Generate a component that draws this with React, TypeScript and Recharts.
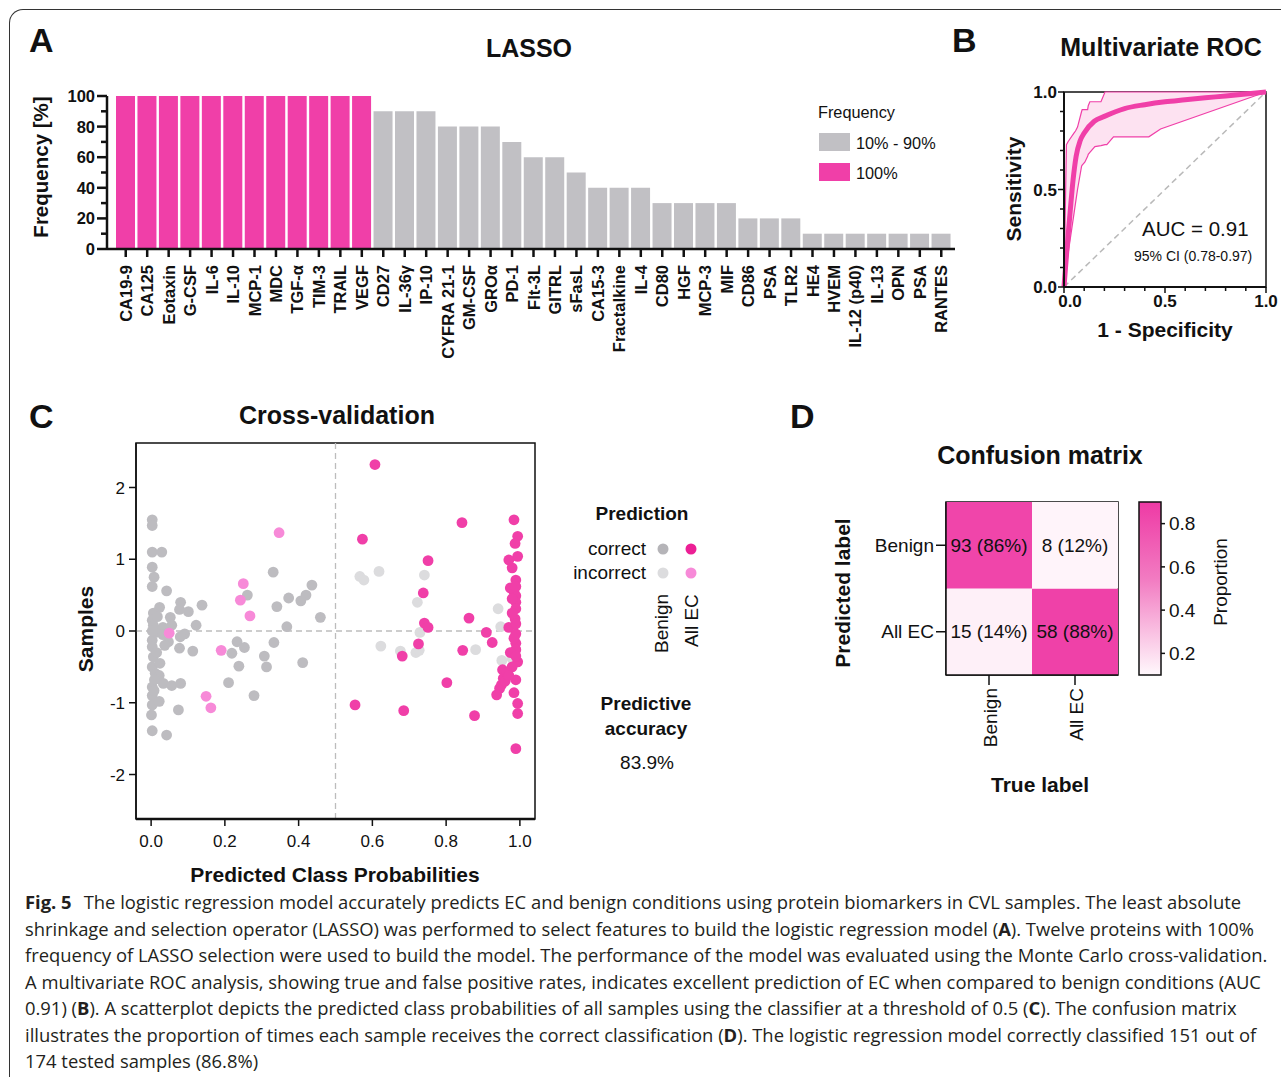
import React from 'react';
import {
  BarChart, Bar, Cell, XAxis, YAxis, ComposedChart, Line, Area,
  ReferenceLine, ReferenceArea, ScatterChart, Scatter, LabelList,
} from 'recharts';

const FONT = '"Liberation Sans", Arial, Helvetica, sans-serif';
const INK = '#111';
const PINK = '#f03fa8';
const GRAY = '#c1c0c4';

// A: LASSO selection frequency
const proteins = [
  'CA19-9', 'CA125', 'Eotaxin', 'G-CSF', 'IL-6', 'IL-10', 'MCP-1', 'MDC', 'TGF-α', 'TIM-3', 'TRAIL', 'VEGF',
  'CD27', 'IL-36γ', 'IP-10', 'CYFRA 21-1', 'GM-CSF', 'GROα', 'PD-1', 'Flt-3L', 'GITRL', 'sFasL',
  'CA15-3', 'Fractalkine', 'IL-4', 'CD80', 'HGF', 'MCP-3', 'MIF', 'CD86', 'PSA', 'TLR2',
  'HE4', 'HVEM', 'IL-12 (p40)', 'IL-13', 'OPN', 'PSA', 'RANTES',
];
const frequency = [
  100, 100, 100, 100, 100, 100, 100, 100, 100, 100, 100, 100,
  90, 90, 90, 80, 80, 80, 70, 60, 60, 50,
  40, 40, 40, 30, 30, 30, 30, 20, 20, 20,
  10, 10, 10, 10, 10, 10, 10,
];
const freqTicks = [0, 10, 20, 30, 40, 50, 60, 70, 80, 90, 100];

// B: ROC curve with 95% CI band
const rocFpr = [0, 0.015, 0.03, 0.045, 0.06, 0.08, 0.1, 0.15, 0.2, 0.3, 0.4, 0.5, 0.6, 0.7, 0.8, 0.9, 1];
const rocTpr = [0, 0.2, 0.38, 0.55, 0.67, 0.75, 0.79, 0.85, 0.875, 0.915, 0.935, 0.95, 0.96, 0.97, 0.98, 0.99, 1];
const ciFpr = [0, 0.012, 0.02, 0.05, 0.057, 0.067, 0.087, 0.09, 0.103, 0.117, 0.12, 0.128, 0.153, 0.183, 0.203, 0.212, 0.245, 0.42, 0.478, 1];
const ciLow = [0, 0.1, 0.17, 0.38, 0.43, 0.5, 0.62, 0.625, 0.64, 0.67, 0.68, 0.69, 0.72, 0.725, 0.73, 0.73, 0.77, 0.77, 0.81, 1];
const ciHigh = [0, 0.73, 0.745, 0.79, 0.8, 0.82, 0.9, 0.91, 0.91, 0.91, 0.93, 0.95, 0.95, 0.95, 1, 1, 1, 1, 1, 1];
const rocTicks = [0, 0.1, 0.2, 0.3, 0.4, 0.5, 0.6, 0.7, 0.8, 0.9, 1];

// C: cross-validation scatter, [probability, sample jitter]
const benignCorrect: [number, number][] = [
  [0.003, 1.55], [0.003, 1.47], [0.003, 1.1], [0.029, 1.1], [0.003, 0.89], [0.008, 0.75], [0.003, 0.62], [0.042, 0.56],
  [0.023, 0.33], [0.08, 0.4], [0.077, 0.3], [0.101, 0.27], [0.138, 0.36], [0.006, 0.25], [0.003, 0.15], [0.006, 0.08],
  [0.052, 0.19], [0.056, 0.08], [0.122, 0.08], [0.091, -0.04], [0.079, -0.08], [0.003, -0.13], [0.003, -0.22], [0.006, -0.36],
  [0.003, -0.5], [0.024, -0.45], [0.047, -0.15], [0.077, -0.24], [0.113, -0.28], [0.011, -0.59], [0.033, -0.73],
  [0.056, -0.76], [0.08, -0.73], [0.003, -0.78], [0.003, -0.9], [0.003, -1.03], [0.001, -1.17], [0.074, -1.1], [0.003, -1.39],
  [0.042, -1.45], [0.013, -0.02], [0.003, 0], [0.015, -0.3], [0.022, -0.62], [0.009, -0.68], [0.017, 0.2], [0.032, 0.05],
  [0.032, -0.05], [0.037, -0.2], [0.022, -0.98], [0.008, -0.83],
  [0.331, 0.82], [0.261, 0.5], [0.436, 0.64], [0.42, 0.5], [0.406, 0.42], [0.373, 0.46], [0.341, 0.34],
  [0.459, 0.19], [0.368, 0.06], [0.333, -0.16], [0.233, -0.15], [0.253, -0.23], [0.219, -0.31], [0.238, -0.49],
  [0.307, -0.35], [0.313, -0.5], [0.411, -0.44], [0.21, -0.72], [0.279, -0.9],
];
const benignIncorrect: [number, number][] = [
  [0.566, 0.76], [0.577, 0.71], [0.618, 0.83], [0.741, 0.78], [0.722, 0.4], [0.941, 0.31], [0.948, 0.06],
  [0.729, -0.02], [0.623, -0.21], [0.676, -0.28], [0.718, -0.3], [0.727, -0.27], [0.88, -0.26], [0.951, -0.41], [0.978, -0.38],
];
const ecIncorrect: [number, number][] = [
  [0.347, 1.37], [0.25, 0.66], [0.242, 0.43], [0.268, 0.21], [0.049, -0.03], [0.19, -0.27], [0.149, -0.91], [0.162, -1.07],
];
const ecCorrect: [number, number][] = [
  [0.607, 2.32], [0.573, 1.28], [0.843, 1.51], [0.751, 0.98], [0.738, 0.53], [0.741, 0.11], [0.751, 0.05],
  [0.725, -0.18], [0.681, -0.35], [0.862, 0.18], [0.909, -0.02], [0.925, -0.16], [0.845, -0.27], [0.802, -0.72],
  [0.553, -1.03], [0.685, -1.11], [0.877, -1.18], [0.989, -1.64],
  [0.984, 1.55], [0.994, 1.32], [0.987, 1.22], [0.994, 1.04], [0.97, 0.99], [0.979, 0.88], [0.989, 0.71], [0.984, 0.55],
  [0.989, 0.49], [0.989, 0.4], [0.989, 0.31], [0.987, 0.17], [0.97, 0.05], [0.989, -0.04], [0.989, -0.17], [0.989, -0.26],
  [0.994, -0.43], [0.979, -0.5], [0.953, -0.54], [0.955, -0.66], [0.989, -0.68], [0.95, -0.75], [0.945, -0.8],
  [0.984, -0.86], [0.937, -0.89], [0.994, -1.01], [0.994, -1.15],
  [0.974, 0.6], [0.989, 0.62], [0.979, 0.25], [0.989, 0.1], [0.984, -0.1], [0.974, -0.3], [0.965, -0.58], [0.96, -0.7],
  [0.989, -0.35], [0.979, 0.45], [0.97, -0.62],
];
const probTicks = [0, 0.2, 0.4, 0.6, 0.8, 1];
const sampleTicks = [-2, -1, 0, 1, 2];

// D: confusion matrix (columns = true label)
const trueLabels = ['Benign', 'All EC'];
const predBenignCount = [93, 8];
const predBenignProp = [0.86, 0.12];
const predEcCount = [15, 58];
const predEcProp = [0.14, 0.88];
const predLabels = ['All EC', 'Benign'];
const colorbarRange = [0.1, 0.9];
const colorbarTicks = [0.2, 0.4, 0.6, 0.8];

const lassoData = proteins.map((name, i) => ({ id: i, name, freq: frequency[i] }));
const rocData = rocFpr.map((x, i) => ({ x, y: rocTpr[i] }));
const ciData = ciFpr.map((x, i) => ({ x, lo: ciLow[i], hi: ciHigh[i] }));
const toPts = (a: [number, number][]) => a.map(([x, y]) => ({ x, y }));
const cmData = trueLabels.map((t, i) => ({
  t,
  ec: 1,
  benign: 1,
  ecProp: predEcProp[i],
  benignProp: predBenignProp[i],
  ecLabel: `${predEcCount[i]} (${Math.round(predEcProp[i] * 100)}%)`,
  benignLabel: `${predBenignCount[i]} (${Math.round(predBenignProp[i] * 100)}%)`,
}));
const cbData = [{ k: 'p', range: colorbarRange }];

const heat = (p: number) => {
  const t = Math.max(0, Math.min(1, (p - 0.1) / 0.8));
  const lo = [255, 249, 252];
  const hi = [239, 60, 166];
  const c = lo.map((v, i) => Math.round(v + (hi[i] - v) * t));
  return `rgb(${c[0]},${c[1]},${c[2]})`;
};

const ProteinTick = ({ x, y, payload }: any) => (
  <g>
    <line x1={x} y1={y} x2={x} y2={y + 8} stroke={INK} strokeWidth={2.5} />
    <text transform={`translate(${x + 6},${y + 16}) rotate(-90)`} textAnchor="end"
      fontSize={16.5} fontWeight="bold" fontFamily={FONT} fill={INK}>
      {proteins[payload.value]}
    </text>
  </g>
);

const FreqTick = ({ x, y, payload }: any) => {
  const major = payload.value % 20 === 0;
  return (
    <g>
      <line x1={x - (major ? 10 : 6)} y1={y} x2={x} y2={y} stroke={INK} strokeWidth={2.5} />
      {major && (
        <text x={x - 12} y={y} dy="0.36em" textAnchor="end" fontSize={16.5} fontWeight="bold" fontFamily={FONT} fill={INK}>
          {payload.value}
        </text>
      )}
    </g>
  );
};

const isHalf = (v: number) => Math.abs(v * 2 - Math.round(v * 2)) < 1e-6;

const RocXTick = ({ x, y, payload }: any) => {
  const v = payload.value;
  const major = isHalf(v);
  return (
    <g>
      <line x1={x} y1={y} x2={x} y2={y + (major ? 6 : 4)} stroke={INK} strokeWidth={1.5} />
      {major && (
        <text x={x + (v === 0 ? 6 : 0)} y={y + 20} textAnchor="middle" fontSize={17} fontWeight="bold" fontFamily={FONT} fill={INK}>
          {v.toFixed(1)}
        </text>
      )}
    </g>
  );
};

const RocYTick = ({ x, y, payload }: any) => {
  const v = payload.value;
  const major = isHalf(v);
  return (
    <g>
      <line x1={x - (major ? 6 : 4)} y1={y} x2={x} y2={y} stroke={INK} strokeWidth={1.5} />
      {major && (
        <text x={x - 7} y={y} dy="0.36em" textAnchor="end" fontSize={17} fontWeight="bold" fontFamily={FONT} fill={INK}>
          {v.toFixed(1)}
        </text>
      )}
    </g>
  );
};

const CmXTick = ({ x, y, payload }: any) => (
  <g>
    <line x1={x} y1={y} x2={x} y2={y + 10} stroke={INK} strokeWidth={1.5} />
    <text transform={`translate(${x + 8},${y + 13}) rotate(-90)`} textAnchor="end" fontSize={19} fontFamily={FONT} fill={INK}>
      {payload.value}
    </text>
  </g>
);

const Dot = (p: any) => <circle cx={p.cx} cy={p.cy} r={5.4} fill={p.fill} />;

const abs = (left: number, top: number): React.CSSProperties => ({ position: 'absolute', left, top });

const T = (p: any) => <text fontFamily={FONT} fill={INK} {...p} />;

export default function App() {
  return (
    <div style={{ position: 'absolute', left: 0, top: 0, width: 1281, height: 1077, overflow: 'hidden', background: '#fff' }}>
      <div style={{
        position: 'absolute', left: 9, top: 9, width: 1400, height: 1200,
        borderTop: '1.3px solid #333', borderLeft: '1.3px solid #333', borderTopLeftRadius: 14,
      }} />

      {/* A */}
      <div style={abs(0, 0)}>
        <BarChart width={965} height={380} data={lassoData} barSize={19}
          margin={{ top: 96, right: 10, bottom: 11, left: 0 }}>
          <XAxis dataKey="id" height={120} interval={0} padding={{ left: 8, right: 3 }}
            axisLine={{ stroke: INK, strokeWidth: 2.5 }} tickLine={false} tickSize={0} tickMargin={0}
            tick={<ProteinTick />} />
          <YAxis type="number" domain={[0, 100]} ticks={freqTicks} interval={0} width={107}
            axisLine={{ stroke: INK, strokeWidth: 2.5 }} tickLine={false} tickSize={0} tickMargin={0}
            tick={<FreqTick />} />
          <Bar dataKey="freq" isAnimationActive={false}>
            {lassoData.map((d) => <Cell key={d.id} fill={d.freq === 100 ? PINK : GRAY} />)}
          </Bar>
        </BarChart>
      </div>

      {/* B */}
      <div style={abs(990, 60)}>
        <ComposedChart width={291} height={300} margin={{ top: 32, right: 15, bottom: 43, left: 24 }}>
          <XAxis type="number" dataKey="x" domain={[0, 1]} ticks={rocTicks} interval={0} height={30}
            axisLine={{ stroke: INK, strokeWidth: 2 }} tickLine={false} tickSize={0} tickMargin={0}
            tick={<RocXTick />} />
          <YAxis type="number" domain={[0, 1]} ticks={rocTicks} interval={0} width={50}
            axisLine={{ stroke: INK, strokeWidth: 2 }} tickLine={false} tickSize={0} tickMargin={0}
            tick={<RocYTick />} />
          <ReferenceArea x1={0} x2={1} y1={0} y2={1} fill="none" stroke={INK} strokeWidth={1.5} />
          <ReferenceLine segment={[{ x: 0, y: 0 }, { x: 1, y: 1 }]} stroke="#b9b9b9" strokeDasharray="6 4" strokeWidth={1.5} />
          <Area data={ciData} dataKey={(d: any) => [d.lo, d.hi]} type="linear" fill="#fde2f1" fillOpacity={1}
            stroke="none" isAnimationActive={false} />
          <Line data={ciData} dataKey="hi" type="linear" stroke={PINK} strokeWidth={1.2} dot={false} isAnimationActive={false} />
          <Line data={ciData} dataKey="lo" type="linear" stroke={PINK} strokeWidth={1.2} dot={false} isAnimationActive={false} />
          <Line data={rocData} dataKey="y" type="monotone" stroke={PINK} strokeWidth={5} dot={false} isAnimationActive={false} />
        </ComposedChart>
      </div>

      {/* C */}
      <div style={abs(0, 0)}>
        <ScatterChart width={560} height={880} margin={{ top: 443, right: 25, bottom: 21, left: 96 }}>
          <XAxis type="number" dataKey="x" domain={[-0.041, 1.041]} ticks={probTicks} interval={0} height={40}
            axisLine={{ stroke: INK, strokeWidth: 2.5 }} tickLine={{ stroke: INK, strokeWidth: 1.5 }}
            tickSize={7} tickMargin={9} tickFormatter={(v: number) => v.toFixed(1)}
            tick={{ fontSize: 17, fill: INK, fontFamily: FONT }} />
          <YAxis type="number" dataKey="y" domain={[-2.62, 2.62]} ticks={sampleTicks} interval={0} width={40}
            axisLine={{ stroke: INK, strokeWidth: 1.5 }} tickLine={{ stroke: INK, strokeWidth: 1.5 }}
            tickSize={7} tickMargin={4} tick={{ fontSize: 17, fill: INK, fontFamily: FONT }} />
          <ReferenceArea x1={-0.041} x2={1.041} y1={-2.62} y2={2.62} fill="none" stroke={INK} strokeWidth={1.5} />
          <ReferenceLine x={0.5} stroke="#bdbdbd" strokeDasharray="6 4" strokeWidth={1.3} />
          <ReferenceLine y={0} stroke="#bdbdbd" strokeDasharray="6 4" strokeWidth={1.3} />
          <Scatter data={toPts(benignCorrect)} fill="#bdbcc0" shape={Dot} isAnimationActive={false} />
          <Scatter data={toPts(benignIncorrect)} fill="#dcdcde" shape={Dot} isAnimationActive={false} />
          <Scatter data={toPts(ecIncorrect)} fill="#f78ad8" shape={Dot} isAnimationActive={false} />
          <Scatter data={toPts(ecCorrect)} fill={PINK} shape={Dot} isAnimationActive={false} />
        </ScatterChart>
      </div>

      {/* D heatmap */}
      <div style={abs(820, 430)}>
        <BarChart width={460} height={340} data={cmData} barCategoryGap={0}
          margin={{ top: 72, right: 162, bottom: 35, left: 26 }}>
          <XAxis dataKey="t" height={60} interval={0} axisLine={{ stroke: INK, strokeWidth: 1.5 }}
            tickLine={false} tickSize={0} tickMargin={0} tick={<CmXTick />} />
          <YAxis type="number" domain={[0, 2]} ticks={[0.5, 1.5]} interval={0} width={100}
            tickFormatter={(v: number) => predLabels[Math.floor(v)]}
            axisLine={{ stroke: INK, strokeWidth: 1.5 }} tickLine={{ stroke: INK, strokeWidth: 1.5 }}
            tickSize={10} tickMargin={2} tick={{ fontSize: 19, fill: INK, fontFamily: FONT }} />
          <Bar dataKey="ec" stackId="m" isAnimationActive={false}>
            {cmData.map((d) => <Cell key={d.t} fill={heat(d.ecProp)} />)}
            <LabelList dataKey="ecLabel" position="center" fontSize={19} fill={INK} fontFamily={FONT} />
          </Bar>
          <Bar dataKey="benign" stackId="m" isAnimationActive={false}>
            {cmData.map((d) => <Cell key={d.t} fill={heat(d.benignProp)} />)}
            <LabelList dataKey="benignLabel" position="center" fontSize={19} fill={INK} fontFamily={FONT} />
          </Bar>
          <ReferenceArea y1={0} y2={2} fill="none" stroke={INK} strokeWidth={1.5} />
        </BarChart>
      </div>

      {/* D colour bar */}
      <div style={abs(1130, 430)}>
        <BarChart width={120} height={340} data={cbData} barCategoryGap={0}
          margin={{ top: 72, right: 29, bottom: 95, left: 9 }}>
          <defs>
            <linearGradient id="cbGrad" x1="0" y1="0" x2="0" y2="1">
              <stop offset="0%" stopColor="#ee3aa5" />
              <stop offset="45%" stopColor="#f27cc2" />
              <stop offset="100%" stopColor="#fff8fc" />
            </linearGradient>
          </defs>
          <XAxis dataKey="k" hide />
          <YAxis orientation="right" type="number" domain={[0.1, 0.9]} ticks={colorbarTicks} interval={0} width={60}
            axisLine={false} tickLine={{ stroke: INK, strokeWidth: 1.5 }} tickSize={4} tickMargin={4}
            tickFormatter={(v: number) => v.toFixed(1)} tick={{ fontSize: 19, fill: INK, fontFamily: FONT }} />
          <Bar dataKey="range" fill="url(#cbGrad)" stroke={INK} strokeWidth={1.5} isAnimationActive={false} />
        </BarChart>
      </div>

      {/* free text */}
      <svg width={1281} height={1077} style={{ position: 'absolute', left: 0, top: 0, pointerEvents: 'none' }}>
        <T x={29} y={52} fontSize={34} fontWeight="bold">A</T>
        <T x={952} y={52} fontSize={34} fontWeight="bold">B</T>
        <T x={29} y={428} fontSize={34} fontWeight="bold">C</T>
        <T x={790} y={428} fontSize={34} fontWeight="bold">D</T>

        <T x={529} y={57} fontSize={25} fontWeight="bold" textAnchor="middle">LASSO</T>
        <T x={1161} y={56} fontSize={25} fontWeight="bold" textAnchor="middle">Multivariate ROC</T>
        <T x={337} y={424} fontSize={25} fontWeight="bold" textAnchor="middle">Cross-validation</T>
        <T x={1040} y={464} fontSize={25} fontWeight="bold" textAnchor="middle">Confusion matrix</T>

        <T transform="translate(48,167) rotate(-90)" fontSize={20.5} fontWeight="bold" textAnchor="middle">Frequency [%]</T>
        <T x={818} y={118} fontSize={16.3}>Frequency</T>
        <rect x={819} y={133} width={31} height={18} fill={GRAY} />
        <rect x={819} y={163} width={31} height={18} fill={PINK} />
        <T x={856} y={149} fontSize={16.3}>10% - 90%</T>
        <T x={856} y={179} fontSize={16.3}>100%</T>

        <T transform="translate(1021,189) rotate(-90)" fontSize={21} fontWeight="bold" textAnchor="middle">Sensitivity</T>
        <T x={1165} y={337} fontSize={21} fontWeight="bold" textAnchor="middle">1 - Specificity</T>
        <T x={1142} y={236} fontSize={20.5}>AUC = 0.91</T>
        <T x={1134} y={261} fontSize={14}>95% CI (0.78-0.97)</T>

        <T transform="translate(93,629) rotate(-90)" fontSize={21} fontWeight="bold" textAnchor="middle">Samples</T>
        <T x={335} y={882} fontSize={21} fontWeight="bold" textAnchor="middle">Predicted Class Probabilities</T>
        <T x={642} y={520} fontSize={19} fontWeight="bold" textAnchor="middle">Prediction</T>
        <T x={646} y={555} fontSize={19} textAnchor="end">correct</T>
        <T x={646} y={579} fontSize={19} textAnchor="end">incorrect</T>
        <circle cx={663} cy={549} r={5.5} fill="#b5b4b8" />
        <circle cx={691} cy={549} r={5.5} fill="#ec1f95" />
        <circle cx={663} cy={573} r={5.5} fill="#dcdcde" />
        <circle cx={691} cy={573} r={5.5} fill="#f78ad8" />
        <T transform="translate(668,653) rotate(-90)" fontSize={19}>Benign</T>
        <T transform="translate(698,647) rotate(-90)" fontSize={19}>All EC</T>
        <T x={646} y={710} fontSize={19} fontWeight="bold" textAnchor="middle">Predictive</T>
        <T x={646} y={735} fontSize={19} fontWeight="bold" textAnchor="middle">accuracy</T>
        <T x={647} y={769} fontSize={19} textAnchor="middle">83.9%</T>

        <T transform="translate(850,593) rotate(-90)" fontSize={21} fontWeight="bold" textAnchor="middle">Predicted label</T>
        <T x={1040} y={792} fontSize={21} fontWeight="bold" textAnchor="middle">True label</T>
        <T transform="translate(1227,582) rotate(-90)" fontSize={19} textAnchor="middle">Proportion</T>

        <g fontFamily='"Open Sans", "Noto Sans", sans-serif' fontSize={18.4} fill="#231f20">
          <text x={25} y={909}>
            <tspan fontWeight="bold">Fig. 5</tspan>
            <tspan dx={12}>The logistic regression model accurately predicts EC and benign conditions using protein biomarkers in CVL samples. The least absolute</tspan>
          </text>
          <text x={25} y={935.5}>
            shrinkage and selection operator (LASSO) was performed to select features to build the logistic regression model (<tspan fontWeight="bold">A</tspan>). Twelve proteins with 100%
          </text>
          <text x={25} y={962}>
            frequency of LASSO selection were used to build the model. The performance of the model was evaluated using the Monte Carlo cross-validation.
          </text>
          <text x={25} y={988.5}>
            A multivariate ROC analysis, showing true and false positive rates, indicates excellent prediction of EC when compared to benign conditions (AUC
          </text>
          <text x={25} y={1015}>
            0.91) (<tspan fontWeight="bold">B</tspan>). A scatterplot depicts the predicted class probabilities of all samples using the classifier at a threshold of 0.5 (<tspan fontWeight="bold">C</tspan>). The confusion matrix
          </text>
          <text x={25} y={1041.5}>
            illustrates the proportion of times each sample receives the correct classification (<tspan fontWeight="bold">D</tspan>). The logistic regression model correctly classified 151 out of
          </text>
          <text x={25} y={1068}>174 tested samples (86.8%)</text>
        </g>
      </svg>
    </div>
  );
}
